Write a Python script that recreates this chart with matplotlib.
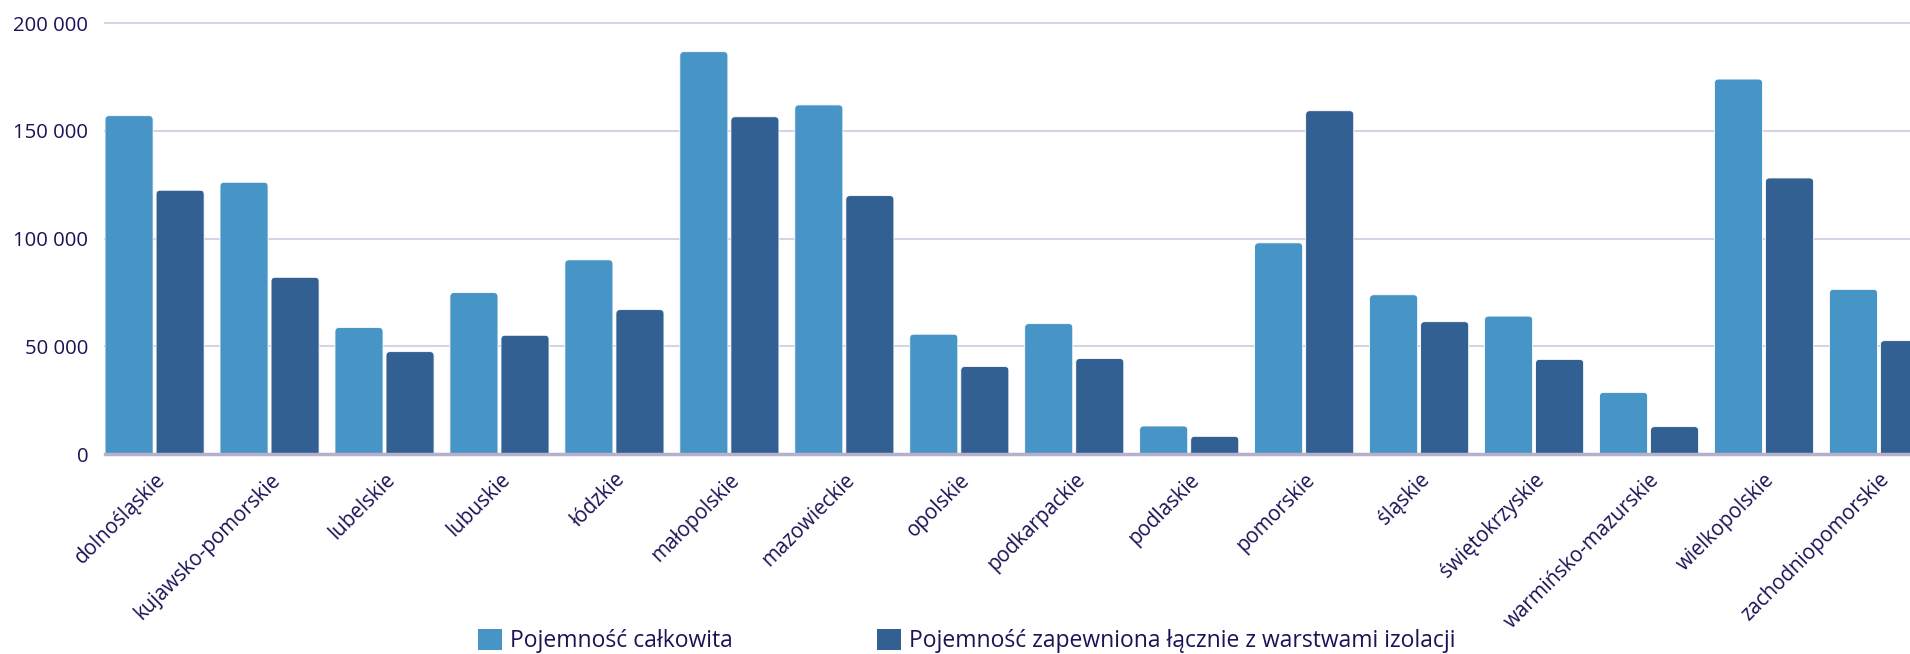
import matplotlib
matplotlib.use("Agg")
import matplotlib.pyplot as plt
from matplotlib.patches import FancyBboxPatch, Patch
from matplotlib.ticker import FuncFormatter
import numpy as np

# pojemności magazynów wg województw
regions = ["dolnośląskie", "kujawsko-pomorskie", "lubelskie", "lubuskie", "łódzkie",
           "małopolskie", "mazowieckie", "opolskie", "podkarpackie", "podlaskie",
           "pomorskie", "śląskie", "świętokrzyskie", "warmińsko-mazurskie",
           "wielkopolskie", "zachodniopomorskie"]
total = [157000, 126100, 58700, 74900, 90100, 186700, 162000, 55600,
         60500, 13000, 98000, 73900, 64000, 28600, 174000, 76400]
insulated = [122400, 82000, 47500, 55100, 67000, 156500, 119900, 40600,
             44300, 8200, 159300, 61400, 43900, 12700, 128100, 52600]
series_names = ["Pojemność całkowita", "Pojemność zapewniona łącznie z warstwami izolacji"]

c_light = "#4794c7"
c_dark = "#326093"
txt = "#1a1456"

plt.rcParams["font.family"] = ["Open Sans", "DejaVu Sans"]

fig = plt.figure(figsize=(19.1, 6.54), dpi=100)
ax = fig.add_axes([0.055, 0.3058, 0.945, 0.659])

x = np.arange(len(regions))
w = 0.418
off = 0.222
ax.set_xlim(x[0] - off - w / 2, 15.27)
ax.set_ylim(0, 200000)

# rounded bars: corner radius ~4 px, aspect converts x units to y units
asp = 464 * 115
rad = 0.035
for vals, dx, col in [(total, -off, c_light), (insulated, off, c_dark)]:
    for xi, v in zip(x, vals):
        ax.add_patch(FancyBboxPatch((xi + dx - w / 2, -8000), w, v + 8000,
                                    boxstyle=f"round,pad=0,rounding_size={rad}",
                                    mutation_aspect=asp, fc=col, ec="white",
                                    lw=0.6, zorder=3))

for g in [50000, 100000, 150000, 200000]:
    ax.axhline(g, color="#d6d3e6", lw=1.5, zorder=1, clip_on=False)
ax.axhline(0, color="#b7b0cc", lw=2.5, zorder=4, clip_on=False)

for s in ax.spines.values():
    s.set_visible(False)

ax.set_yticks([0, 50000, 100000, 150000, 200000])
ax.yaxis.set_major_formatter(FuncFormatter(lambda v, p: f"{int(v):,}".replace(",", " ")))
ax.tick_params(axis="y", length=0, pad=12, labelsize=14.6, labelcolor=txt)

ax.set_xticks(x)
ax.set_xticklabels(regions, rotation=45, ha="right", va="top", rotation_mode="anchor")
ax.tick_params(axis="x", length=0, pad=11, labelsize=14.8, labelcolor=txt)

handles = [Patch(fc=c_light, ec="none"), Patch(fc=c_dark, ec="none")]
fig.legend(handles, series_names, loc="center", bbox_to_anchor=(0.506, 0.02),
           ncol=2, frameon=False, fontsize=16.5, labelcolor=txt,
           handlelength=1.05, handleheight=1.05, handletextpad=0.35,
           columnspacing=6.3)

fig.savefig("out.png", dpi=100)
